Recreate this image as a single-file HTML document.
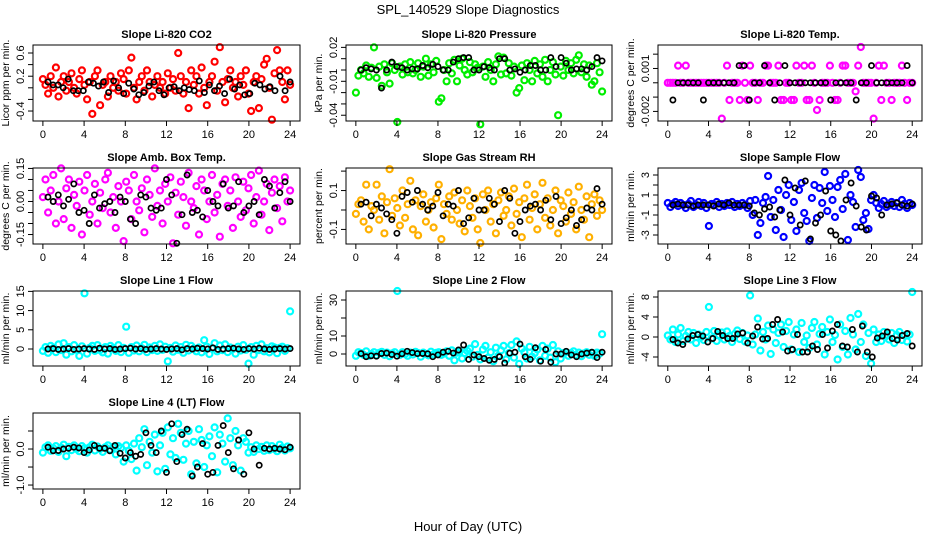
<!DOCTYPE html>
<html><head><meta charset="utf-8"><style>
html,body{margin:0;padding:0;background:#fff;}
svg{display:block;font-family:"Liberation Sans",sans-serif;}
</style></head><body>
<svg id="chart" width="936" height="540" viewBox="0 0 936 540">
<text x="468" y="14" font-size="13" text-anchor="middle">SPL_140529  Slope Diagnostics</text>
<text x="468" y="531" font-size="13" text-anchor="middle">Hour of Day (UTC)</text>
</svg>
<script>
// ---- data (hours derived from sample index across 0..24) ----
const xTicks = [0,4,8,12,16,20,24];
const co2Color = [0.15,0.05,-0.1,0.2,0.0,0.35,-0.15,0.1,0.2,-0.05,0.1,0.25,0.0,-0.1,0.15,0.3,0.05,-0.2,0.1,-0.45,0.2,0.3,-0.3,0.05,0.1,-0.15,0.2,0.0,0.1,-0.05,0.25,0.15,-0.1,0.3,0.52,0.0,-0.2,0.1,0.2,-0.05,0.3,0.1,-0.15,0.05,0.2,0.0,0.1,-0.1,0.25,0.0,0.15,-0.05,0.6,0.2,-0.1,0.1,-0.35,0.3,0.05,0.2,-0.1,0.35,0.0,-0.3,0.1,0.2,0.45,-0.05,0.7,0.1,-0.25,0.15,0.3,0.0,0.1,-0.15,0.2,0.05,0.3,-0.1,-0.4,0.1,0.2,-0.35,0.15,0.4,0.5,0.0,-0.55,0.25,0.65,0.3,0.1,-0.2,0.3,0.05];
const co2Black = [0.1,0.05,0.05,0.0,0.15,-0.05,-0.05,-0.05,0.1,0.08,0.03,0.1,-0.08,0.12,0.0,-0.1,0.08,-0.02,-0.12,-0.08,0.03,0.1,-0.05,-0.12,0.0,0.02,-0.05,0.0,-0.03,-0.05,0.12,-0.08,0.05,-0.05,0.03,-0.1,0.15,-0.02,0.05,-0.12,-0.1,0.08,0.05,-0.02,0.02,-0.05,0.2,-0.05,0.1];
const presColor = [-0.02,-0.005,0.0,-0.003,0.004,-0.006,0.002,0.02,-0.007,0.003,-0.014,0.005,-0.002,-0.012,0.006,0.0,-0.046,0.003,-0.004,0.005,-0.002,0.007,-0.003,0.0,0.006,-0.006,0.003,0.01,-0.005,0.005,-0.002,0.008,-0.028,-0.025,0.0,-0.01,0.006,-0.003,0.009,-0.01,0.004,0.01,0.0,-0.004,0.007,-0.002,0.005,0.002,-0.048,0.003,-0.006,0.007,0.0,-0.01,0.005,0.012,-0.004,0.011,-0.003,0.006,-0.005,0.003,-0.02,-0.016,0.004,-0.009,0.006,0.0,-0.01,0.008,-0.003,0.005,-0.006,0.009,-0.01,0.0,0.007,-0.004,-0.04,0.003,-0.005,0.008,0.0,0.006,-0.003,0.009,0.013,-0.002,0.005,-0.006,0.004,-0.013,-0.01,0.006,-0.002,-0.019];
const presBlack = [0.0,0.002,0.001,0.0,-0.016,0.0,0.007,0.003,0.002,0.0,0.001,0.001,0.004,0.002,0.005,0.003,0.0,0.0,0.007,0.01,0.011,0.011,0.0,0.0,0.003,0.002,0.0,0.01,0.01,0.0,0.001,-0.002,0.0,0.004,0.004,0.0,0.0,0.011,0.003,0.011,0.006,0.0,0.001,0.001,0.0,0.003,0.011,0.008];
const tempColor = [0,0,0,0,0.0012,0,0,0.0012,0,0,0,0,0,0,0,0,0,0,0,0,0,-0.0025,0,0.0012,-0.0012,0,0,0,-0.0012,0.0012,0,-0.0012,0.0012,0,0,-0.0012,0,0,0.0012,0.0012,0,0,0,0.0012,-0.0012,-0.0012,0,0,-0.0012,-0.0012,0.0012,0,0,0.0012,-0.0012,-0.0012,0.0012,0,-0.0019,-0.0012,0,0,0,0.0012,0,-0.0012,-0.0012,0,0.0012,0.0012,0,0,0,-0.0006,0.0012,0.0025,0,0,0,0,-0.0025,0,0.0012,-0.0012,0.0012,0,0,-0.0012,0,0,0,0.0012,0,-0.0012,0,0];
const tempBlack = [-0.0012,0,0,0,0,0,-0.0012,0,0,0,0,0,0,0.0012,0.0012,-0.0012,0,0,0.0012,0,-0.0012,0,0.0012,0,0,0,0,0,0,0,0,-0.0012,0,0,0,0,-0.0012,0,0,0.0012,0,0,0,0,0,0,0.0012,0];
const ambColor = [0.02,0.1,-0.05,0.05,0.12,-0.1,0.0,0.15,-0.08,0.06,0.1,-0.12,0.03,-0.02,0.09,-0.15,0.05,0.12,-0.06,0.0,0.08,-0.1,0.04,-0.03,0.1,0.13,-0.05,0.02,-0.12,0.07,0.0,-0.18,0.09,0.05,-0.08,0.12,0.0,-0.04,0.06,-0.14,0.1,0.03,-0.07,0.15,-0.02,0.05,-0.1,0.08,0.0,0.11,-0.19,0.04,-0.06,0.09,0.02,-0.11,0.13,0.0,-0.03,0.07,-0.15,0.1,0.05,-0.08,0.0,0.12,-0.05,0.03,-0.16,0.08,0.1,-0.02,0.05,-0.12,0.11,0.0,-0.07,0.09,-0.04,0.06,0.12,-0.1,0.02,0.14,-0.06,0.0,0.08,-0.13,0.04,0.1,-0.03,0.07,-0.09,0.11,0.0,0.05];
const ambBlack = [0.02,0.0,0.03,-0.02,0.01,0.08,-0.05,-0.04,-0.1,0.03,-0.03,-0.01,0.0,-0.05,0.02,0.0,-0.08,-0.1,0.03,0.02,-0.03,-0.04,-0.03,0.1,0.03,-0.19,-0.06,0.12,-0.05,-0.04,-0.07,0.05,0.0,-0.02,0.08,-0.03,-0.02,0.09,-0.05,-0.02,0.0,-0.06,0.1,0.07,-0.03,0.04,0.09,0.0];
const rhColor = [-0.02,0.03,0.05,-0.06,0.13,-0.1,0.02,0.0,0.13,-0.05,0.07,-0.12,0.04,0.21,-0.03,0.06,0.01,-0.08,0.1,-0.04,0.03,0.15,-0.1,0.05,-0.13,0.02,0.08,-0.06,0.0,0.04,-0.09,0.06,0.13,-0.15,0.03,-0.02,0.07,-0.05,0.09,0.0,-0.07,0.05,-0.11,0.1,0.02,-0.04,0.06,-0.1,-0.17,0.08,0.0,0.1,-0.06,0.03,-0.12,0.05,0.09,-0.03,0.0,0.07,-0.08,0.11,-0.02,0.04,-0.14,0.06,0.13,-0.05,0.01,0.08,-0.1,0.03,0.14,-0.04,0.06,-0.08,0.0,0.1,-0.12,0.05,0.02,-0.06,0.09,-0.02,0.04,-0.1,0.12,0.0,-0.05,0.07,-0.14,0.03,0.08,-0.03,0.05,0.0];
const rhBlack = [0.03,0.04,-0.03,0.03,0.01,-0.02,-0.05,-0.12,0.07,0.09,0.04,0.1,0.03,0.0,0.02,0.09,-0.03,0.03,0.02,0.1,-0.07,-0.04,0.06,0.0,0.0,0.06,0.03,-0.06,0.1,0.06,-0.12,-0.06,0.0,0.02,0.03,0.0,0.05,-0.05,0.07,-0.07,-0.04,0.0,-0.08,-0.05,0.01,0.0,0.11,0.03];
const sampColor = [0.2,-0.2,0.1,0.3,-0.1,0.2,0.0,-0.3,0.1,0.4,-0.2,0.0,0.3,-0.1,0.2,-0.3,-2.1,0.1,0.0,0.3,-0.2,0.1,-0.1,0.2,0.0,0.3,-0.2,0.1,-0.1,0.2,0.0,-0.3,0.4,-1.0,0.5,-3.0,-1.8,0.2,0.8,2.9,-1.2,0.5,-2.5,1.5,-0.5,-3.2,1.0,2.0,-1.5,0.3,-2.6,1.5,2.2,-0.8,-1.6,-3.6,0.7,2.0,-1.3,1.7,0.2,3.3,-0.6,1.9,0.5,-1.2,1.8,2.5,-0.4,3.1,-3.5,1.0,0.3,-2.2,3.5,2.8,-1.5,-0.8,-2.4,0.5,1.0,0.2,-0.3,0.1,0.4,-0.2,0.0,0.3,-0.1,0.2,-0.2,0.5,0.1,-0.3,0.2,0.0];
const sampBlack = [0.0,0.1,0.0,0.0,-0.1,0.0,0.0,0.0,-0.1,0.1,0.0,0.2,0.0,0.0,0.0,-0.1,-0.8,-1.0,-0.4,-0.2,-1.2,-0.5,2.5,-1.0,1.7,-2.0,2.4,-3.4,-1.8,-1.0,1.4,-2.6,-3.0,-3.6,0.5,2.2,-0.1,-2.2,-2.5,0.9,0.7,-1.0,0.0,0.1,0.2,0.0,-0.1,0.1];
const l1Color = [-0.5,0.5,-1,0.8,0.2,-0.8,1.2,-0.3,1.5,-1.5,0.5,-0.6,1.0,-0.2,-1.8,0.7,14.5,-1.2,0.3,0.8,-0.5,1.0,-0.3,-0.9,0.5,-1.2,0.8,0.2,-0.5,1.0,-0.8,0.3,5.8,-1.0,0.5,-0.4,0.9,-0.6,0.2,1.1,-0.8,0.4,-0.3,0.8,-0.5,1.2,-0.2,0.6,-3.2,0.3,-0.7,0.9,-0.2,0.5,-1.0,1.1,-0.4,0.8,0.1,-0.6,0.4,-0.9,2.3,0.6,-1.3,0.2,1.5,-0.6,0.9,-0.3,1.2,-0.8,0.4,0.0,-1.2,0.6,-0.4,1.0,-0.2,-3.8,0.5,-1.5,0.8,-0.3,1.2,-0.6,0.2,-0.9,0.7,0.4,-1.1,0.3,0.6,-0.5,0.2,9.8];
const l1Black = [0,0.1,-0.1,0,0.1,-0.1,0,0.1,0,-0.1,0.2,0,0.1,-0.1,0,0.1,0.2,0,0.1,-0.1,0,0.1,0,-0.1,0,0.1,-0.2,0.1,0,0.2,0.1,0,0.3,-0.1,0,0.1,0.2,0,-0.1,0.1,0,0.2,0,-0.1,0,0.1,0,0.1];
const l2Color = [-1,1,0.5,-0.5,1.5,-1,0,1,-0.8,0.6,1.2,-0.5,0.8,-1.2,0.3,1.0,35,-0.5,1,0,-1,0.8,-0.3,1.2,0.5,-1.5,0.8,0,-0.8,1.3,-0.2,0.6,1.0,-0.5,0.3,1.5,-1.0,2.0,-3.5,0.8,1.5,-2.5,0.5,1.8,3.0,-1.5,5.5,-0.5,-3.0,2.5,4.5,-2.0,1.0,-4.0,3.5,-1.0,2.0,4.5,-3.0,0.5,5.0,-2.0,7.0,-5.5,3.0,1.0,-2.5,4.0,-1.5,0.5,2.5,-3.5,4.5,-1.0,3.0,-2.0,5.0,-4.5,1.5,-2.5,0.5,1.0,-1.0,0.5,1.5,-0.5,0.8,-1.2,0.3,1.0,-0.5,0.6,-1.0,0.8,0.2,11];
const l2Black = [0.2,-1.5,-1,-1.2,0.3,0.5,-0.3,-1.2,0.1,1.5,0.8,0.2,0.3,0.1,-1.5,-0.5,1.0,1.5,0.5,2.2,5.0,-3.0,-0.5,-1.5,-2.5,-3.5,-3.0,-1.5,-5.0,0.5,1.0,5.5,-1.5,-3.0,3.5,-4.0,2.5,-4.5,0.0,0.0,1.5,-0.5,-1.5,0.0,0.5,1.0,-2.0,1.0];
const l3Color = [0.3,-0.5,1.5,-1.0,0.5,1.8,-0.8,0.2,1.0,-0.5,0.8,-1.2,0.5,0.0,-0.6,1.0,6.0,-0.3,1.2,-0.8,0.4,0.9,-0.5,1.1,0.2,-1.0,0.6,1.3,-0.4,0.8,-0.9,0.3,8.3,-1.5,0.5,3.7,-2.7,1.0,-0.5,2.3,-3.4,1.5,-1.2,0.8,2.5,-2.0,1.2,3.0,-2.5,0.5,1.5,-3.0,2.8,-1.0,0.3,-2.2,1.8,3.0,-1.5,0.6,2.0,-3.5,1.0,3.5,-1.0,0.4,-4.5,2.5,-2.0,1.2,-3.5,3.8,0.5,-2.5,4.6,-1.0,2.5,-3.8,0.8,-5.3,1.5,-1.0,0.5,-0.8,1.0,0.2,-0.5,0.8,-1.2,0.4,1.0,-0.6,0.3,-0.9,0.5,9.0];
const l3Black = [-0.5,-1.2,-1.5,-0.4,0.3,0.5,0.2,-1.0,-0.3,1.1,0.3,-0.3,-0.3,0.6,0.8,-1.2,0.2,2.0,-0.4,-0.3,2.5,3.5,1.0,-2.8,-2.5,0.5,-3.0,-3.0,-1.8,-2.5,0.5,-2.2,1.2,2.5,-1.8,-2.0,1.5,-3.0,2.2,-3.0,-4.0,-0.2,0.2,1.0,-0.3,-0.6,0.3,0.7,-1.8];
const l4Color = [-0.1,0.05,0.1,-0.05,0.02,0.08,-0.08,0.04,0.12,-0.2,0.06,-0.03,0.1,0.0,-0.06,0.08,0.02,-0.1,0.05,0.12,-0.04,0.07,0.0,-0.08,0.05,0.1,-0.02,0.06,-0.15,0.08,0.03,-0.35,0.1,-0.05,-0.28,0.15,-0.6,0.3,0.05,0.55,-0.45,0.2,-0.1,0.4,-0.62,0.1,0.45,-0.55,0.6,-0.15,0.3,-0.25,0.7,0.45,-0.3,0.15,0.5,-0.7,0.2,-0.4,0.55,0.25,-0.5,0.1,0.35,-0.2,0.6,-0.65,0.4,0.15,-0.35,0.85,0.3,-0.45,0.5,0.1,-0.6,0.3,0.2,-0.1,0.05,-0.08,0.1,0.0,0.06,-0.05,0.1,-0.03,0.08,0.0,-0.06,0.12,0.04,-0.04,0.07,0.02];
const l4Black = [0.05,-0.05,-0.04,0.0,0.02,0.05,0.03,-0.1,-0.03,0.1,0.02,0.02,-0.05,0.1,-0.12,-0.25,-0.1,-0.2,-0.15,0.45,0.1,-0.1,0.5,-0.65,0.7,-0.35,0.4,0.55,-0.75,-0.5,0.15,-0.7,-0.65,0.1,0.65,-0.1,-0.55,0.25,-0.7,0.45,0.0,-0.45,0.02,0.0,0.02,0.0,-0.02,0.05];

const co2Ticks = [-0.4,-0.2,0,0.2,0.4,0.6];           const co2Labels = ["-0.4","","","0.2","","0.6"];
const presTicks = [-0.04,-0.03,-0.02,-0.01,0,0.01,0.02]; const presLabels = ["-0.04","","","-0.01","","","0.02"];
const tempTicks = [-0.002,-0.001,0,0.001,0.002];      const tempLabels = ["-0.002","","","0.001",""];
const ambTicks = [-0.15,-0.1,-0.05,0,0.05,0.1,0.15];   const ambLabels = ["-0.15","","","0.00","","","0.15"];
const rhTicks = [-0.1,0,0.1,0.2];                      const rhLabels = ["-0.1","","0.1",""];
const sampTicks = [-3,-2,-1,0,1,2,3];                  const sampLabels = ["-3","","-1","","1","","3"];
const l1Ticks = [0,5,10,15];                           const l1Labels = ["0","5","10","15"];
const l2Ticks = [0,10,20,30];                          const l2Labels = ["0","10","","30"];
const l3Ticks = [-4,0,4,8];                            const l3Labels = ["-4","0","4","8"];
const l4Ticks = [-1,-0.5,0,0.5];                       const l4Labels = ["-1.0","","0.0",""];

const NS = "http://www.w3.org/2000/svg";
const svg = document.getElementById("chart");
function mk(tag, attrs, parent){ const e=document.createElementNS(NS,tag); for(const k in attrs) e.setAttribute(k,attrs[k]); (parent||svg).appendChild(e); return e; }

const cols = [[33,300],[346,612],[658,922]];
const rows = [[45,121],[168,244],[291,366],[413,489]];

const panels = [
 {key:"co2", title:"Slope Li-820 CO2", ylab:"Licor ppm per min.", c:0,r:0, ylim:[-0.572,0.738], color:"#ff0000", col:co2Color, blk:co2Black, ticks:co2Ticks, labels:co2Labels},
 {key:"pressure", title:"Slope Li-820 Pressure", ylab:"kPa per min.", c:1,r:0, ylim:[-0.0451,0.0221], color:"#00ee00", col:presColor, blk:presBlack, ticks:presTicks, labels:presLabels},
 {key:"licor-temp", title:"Slope Li-820 Temp.", ylab:"degrees C per min.", c:2,r:0, ylim:[-0.00267,0.00264], color:"#ff00ff", col:tempColor, blk:tempBlack, ticks:tempTicks, labels:tempLabels},
 {key:"amb-box-temp", title:"Slope Amb. Box Temp.", ylab:"degrees C per min.", c:0,r:1, ylim:[-0.193,0.152], color:"#ff00ff", col:ambColor, blk:ambBlack, ticks:ambTicks, labels:ambLabels},
 {key:"gas-stream-rh", title:"Slope Gas Stream RH", ylab:"percent per min.", c:1,r:1, ylim:[-0.175,0.216], color:"#ffb000", col:rhColor, blk:rhBlack, ticks:rhTicks, labels:rhLabels},
 {key:"sample-flow", title:"Slope Sample Flow", ylab:"ml/min per min.", c:2,r:1, ylim:[-3.9,3.7], color:"#0000ff", col:sampColor, blk:sampBlack, ticks:sampTicks, labels:sampLabels},
 {key:"line1-flow", title:"Slope Line 1 Flow", ylab:"ml/min per min.", c:0,r:2, ylim:[-4.43,15.1], color:"#00ffff", col:l1Color, blk:l1Black, ticks:l1Ticks, labels:l1Labels},
 {key:"line2-flow", title:"Slope Line 2 Flow", ylab:"ml/min per min.", c:1,r:2, ylim:[-6.67,35], color:"#00ffff", col:l2Color, blk:l2Black, ticks:l2Ticks, labels:l2Labels},
 {key:"line3-flow", title:"Slope Line 3 Flow", ylab:"ml/min per min.", c:2,r:2, ylim:[-5.8,9.2], color:"#00ffff", col:l3Color, blk:l3Black, ticks:l3Ticks, labels:l3Labels},
 {key:"line4-flow", title:"Slope Line 4 (LT) Flow", ylab:"ml/min per min.", c:0,r:3, ylim:[-1.11,1.0], color:"#00ffff", col:l4Color, blk:l4Black, ticks:l4Ticks, labels:l4Labels}
];

panels.forEach(p=>{
  const [x0,x1]=cols[p.c], [y0,y1]=rows[p.r];
  const g = mk("g",{});
  
  
  const xs = h => x0 + (h+0.96)/25.92*(x1-x0);
  const ys = v => y1 - (v-p.ylim[0])/(p.ylim[1]-p.ylim[0])*(y1-y0);
  const t = mk("text",{x:(x0+x1)/2,y:y0-7,"font-size":11,"font-weight":"bold","text-anchor":"middle"},g);
  t.textContent=p.title;
  
  
  const yl = mk("text",{transform:`translate(${x0-24},${(y0+y1)/2}) rotate(-90)`,"font-size":10.5,"text-anchor":"middle"},g);
  yl.textContent=p.ylab;
  
  
  const pts = mk("g",{fill:"none"},g);
  
  
  const nC=p.col.length;
  p.col.forEach((v,i)=>{
    const h = 24*i/(nC-1);
    const c = mk("circle",{cx:xs(h).toFixed(1),cy:ys(v).toFixed(1),r:3,stroke:p.color,"stroke-width":2.2},pts);
    
    
  });
  const nB=p.blk.length;
  p.blk.forEach((v,i)=>{
    const h = 0.5 + 23.5*i/(nB-1);
    const c = mk("circle",{cx:xs(h).toFixed(1),cy:ys(v).toFixed(1),r:2.6,stroke:"#000","stroke-width":1.7},pts);
    
    
  });
  const box = mk("rect",{x:x0,y:y0,width:x1-x0,height:y1-y0,fill:"none",stroke:"#000","stroke-width":1},g);
  
  
  xTicks.forEach(h=>{
    const x=xs(h);
    mk("line",{x1:x,x2:x,y1:y1,y2:y1+5,stroke:"#000"},g);
    const lt = mk("text",{x:x,y:y1+17,"font-size":11,"text-anchor":"middle"},g);
    lt.textContent=h;
    
    
  });
  p.ticks.forEach((v,i)=>{
    const y=ys(v);
    mk("line",{x1:x0-5,x2:x0,y1:y,y2:y,stroke:"#000"},g);
    if(p.labels[i]){
      const lt = mk("text",{transform:`translate(${x0-9},${y}) rotate(-90)`,"font-size":11,"text-anchor":"middle"},g);
      lt.textContent=p.labels[i];
      
      
    }
  });
});
</script>
</body></html>
